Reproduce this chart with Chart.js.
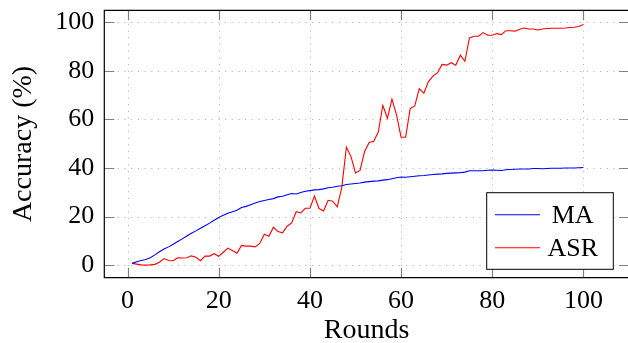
<!DOCTYPE html>
<html>
<head>
<meta charset="utf-8">
<script src="https://cdn.jsdelivr.net/npm/chart.js@4.4.1/dist/chart.umd.min.js"></script>
<style>
    html, body { margin: 0; padding: 0; background: #fff; overflow: hidden; }
    #wrap { width: 640px; height: 343px; }
</style>
</head>
<body>
<div id="wrap"><canvas id="acc-chart" width="640" height="343"></canvas></div>
<script>
const rounds = Array.from({ length: 100 }, (_, i) => i + 1);

const maValues = [
    0.7, 1.4, 1.9, 2.3, 3.0, 4.2, 5.5, 6.6, 7.5, 8.6,
    9.7, 10.8, 12.0, 13.1, 14.1, 15.2, 16.2, 17.3, 18.5, 19.6,
    20.5, 21.4, 22.0, 22.6, 23.7, 24.2, 24.9, 25.6, 26.2, 26.6,
    27.0, 27.4, 28.1, 28.4, 29.0, 29.5, 29.3, 29.9, 30.4, 30.7,
    31.0, 31.1, 31.4, 31.9, 32.1, 32.5, 32.7, 33.2, 33.4, 33.6,
    33.8, 34.2, 34.4, 34.6, 34.7, 35.0, 35.2, 35.6, 36.0, 36.3,
    36.2, 36.4, 36.6, 36.8, 36.9, 37.1, 37.3, 37.5, 37.6, 37.8,
    37.9, 38.0, 38.1, 38.3, 38.9, 38.9, 38.9, 38.9, 39.1, 39.2,
    39.1, 39.0, 39.3, 39.4, 39.5, 39.6, 39.6, 39.6, 39.8, 39.8,
    39.7, 39.8, 39.9, 39.9, 39.9, 40.0, 40.0, 40.0, 40.1, 40.2,
];

const asrValues = [
    0.7, 0.4, 0.1, 0.0, 0.1, 0.3, 1.2, 2.7, 1.9, 1.8,
    3.0, 2.9, 3.0, 3.8, 3.2, 1.8, 3.7, 3.7, 4.7, 3.6,
    5.3, 7.0, 6.0, 4.9, 8.1, 7.8, 7.8, 7.5, 8.9, 12.7,
    11.9, 15.6, 13.8, 13.3, 16.0, 17.4, 22.0, 21.5, 23.4, 23.4,
    28.4, 23.3, 22.3, 26.7, 26.3, 24.0, 32.0, 48.6, 44.8, 38.0,
    39.0, 46.8, 50.5, 51.0, 54.8, 65.8, 60.5, 68.4, 61.9, 52.7,
    52.7, 64.5, 65.6, 72.7, 70.8, 75.6, 77.9, 79.3, 82.7, 82.4,
    83.4, 82.4, 86.5, 84.0, 93.6, 94.3, 94.3, 95.8, 94.7, 94.7,
    95.4, 95.0, 96.6, 96.6, 96.4, 97.2, 97.7, 97.3, 97.3, 96.9,
    97.3, 97.5, 97.6, 97.6, 97.6, 97.7, 97.9, 98.0, 98.3, 99.1,
];

const xTicks = [0, 20, 40, 60, 80, 100];
const yTicks = [0, 20, 40, 60, 80, 100];

const seriesNames = ['MA', 'ASR'];
const seriesColors = ['#0000ff', '#ff0000'];

const SERIF = "'Liberation Serif', 'Times New Roman', serif";

function toPoints(values) {
    return values.map((v, i) => ({ x: rounds[i], y: v }));
}

function keepTicks(list) {
    return (scale) => {
        scale.ticks = list.map((v) => ({ value: v }));
    };
}

// pgfplots-like frame: dotted grid, inward ticks, box (right side falls off the page), legend
const pgfFrame = {
    id: 'pgfFrame',
    beforeDatasetsDraw(chart) {
        const { ctx, chartArea: a, scales } = chart;
        ctx.save();
        ctx.strokeStyle = '#b8b8b8';
        ctx.lineWidth = 1;
        ctx.setLineDash([1.2, 5.5]);
        xTicks.forEach((v) => {
            const px = Math.round(scales.x.getPixelForValue(v)) + 0.5;
            ctx.beginPath();
            ctx.moveTo(px, a.top);
            ctx.lineTo(px, a.bottom);
            ctx.stroke();
        });
        yTicks.forEach((v) => {
            const py = Math.round(scales.y.getPixelForValue(v)) + 0.5;
            ctx.beginPath();
            ctx.moveTo(a.left, py);
            ctx.lineTo(a.right, py);
            ctx.stroke();
        });
        ctx.setLineDash([]);
        ctx.strokeStyle = '#808080';
        ctx.lineWidth = 1.2;
        const len = 10;
        xTicks.forEach((v) => {
            const px = Math.round(scales.x.getPixelForValue(v)) + 0.5;
            ctx.beginPath();
            ctx.moveTo(px, a.bottom);
            ctx.lineTo(px, a.bottom - len);
            ctx.moveTo(px, a.top);
            ctx.lineTo(px, a.top + len);
            ctx.stroke();
        });
        yTicks.forEach((v) => {
            const py = Math.round(scales.y.getPixelForValue(v)) + 0.5;
            ctx.beginPath();
            ctx.moveTo(a.left, py);
            ctx.lineTo(a.left + len, py);
            ctx.moveTo(a.right, py);
            ctx.lineTo(a.right - len, py);
            ctx.stroke();
        });
        ctx.restore();
    },
    afterDatasetsDraw(chart) {
        const { ctx, chartArea: a } = chart;
        ctx.save();
        ctx.strokeStyle = '#000';
        ctx.lineWidth = 1.2;
        ctx.beginPath();
        ctx.moveTo(a.right, a.top);
        ctx.lineTo(a.left, a.top);
        ctx.lineTo(a.left, a.bottom);
        ctx.lineTo(a.right, a.bottom);
        ctx.stroke();

        // legend box
        const bx = 486.7, by = 192.7, bw = 126.6, bh = 76.6;
        ctx.fillStyle = '#fff';
        ctx.fillRect(bx, by, bw, bh);
        ctx.lineWidth = 1;
        ctx.strokeRect(bx, by, bw, bh);
        ctx.font = `26px ${SERIF}`;
        ctx.textAlign = 'center';
        ctx.textBaseline = 'alphabetic';
        seriesNames.forEach((name, i) => {
            const ly = 214.7 + i * 33;
            ctx.strokeStyle = seriesColors[i];
            ctx.lineWidth = 1.1;
            ctx.beginPath();
            ctx.moveTo(495, ly);
            ctx.lineTo(540, ly);
            ctx.stroke();
            ctx.fillStyle = '#000';
            ctx.fillText(name, 572.7, ly + 8.5);
        });
        ctx.restore();
    },
};

new Chart(document.getElementById('acc-chart').getContext('2d'), {
    type: 'line',
    data: {
        datasets: [
            {
                label: seriesNames[0],
                data: toPoints(maValues),
                borderColor: seriesColors[0],
                borderWidth: 1.1,
                pointRadius: 0,
                tension: 0,
            },
            {
                label: seriesNames[1],
                data: toPoints(asrValues),
                borderColor: seriesColors[1],
                borderWidth: 1.1,
                pointRadius: 0,
                tension: 0,
            },
        ],
    },
    options: {
        responsive: false,
        animation: false,
        events: [],
        layout: { padding: { left: 0, right: 11, top: 10.3, bottom: 0 } },
        plugins: {
            legend: { display: false },
            tooltip: { enabled: false },
        },
        scales: {
            x: {
                type: 'linear',
                min: -5.1,
                max: 110,
                afterBuildTicks: keepTicks(xTicks),
                afterFit: (scale) => {
                    scale.height = 65.3;
                    scale.paddingLeft = 0;
                    scale.paddingRight = 0;
                },
                grid: { display: false, drawTicks: false },
                border: { display: false },
                ticks: {
                    color: '#000',
                    padding: 8,
                    maxRotation: 0,
                    font: { family: SERIF, size: 26 },
                },
                title: {
                    display: true,
                    text: 'Rounds',
                    color: '#000',
                    padding: 0,
                    font: { family: SERIF, size: 28, lineHeight: 0.85 },
                },
            },
            y: {
                min: -5.2,
                max: 105,
                afterBuildTicks: keepTicks(yTicks),
                afterFit: (scale) => {
                    scale.width = 104.3;
                    scale.paddingTop = 0;
                    scale.paddingBottom = 0;
                },
                grid: { display: false, drawTicks: false },
                border: { display: false },
                ticks: {
                    color: '#000',
                    padding: 10,
                    font: { family: SERIF, size: 26 },
                },
                title: {
                    display: true,
                    text: 'Accuracy (%)',
                    color: '#000',
                    padding: { top: 7, bottom: 0 },
                    font: { family: SERIF, size: 28 },
                },
            },
        },
    },
    plugins: [pgfFrame],
});
</script>
</body>
</html>
